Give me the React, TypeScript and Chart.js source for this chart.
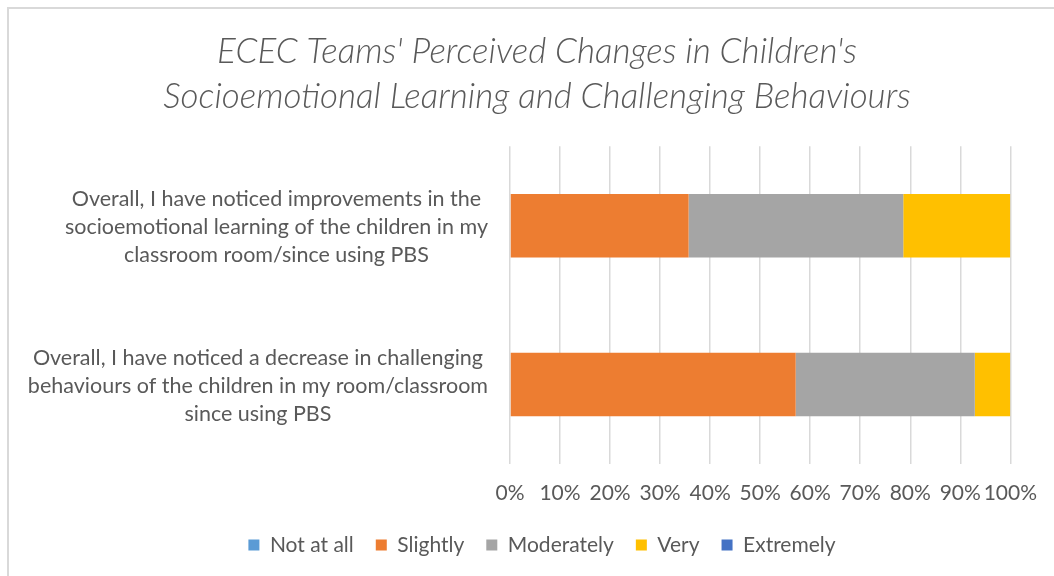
import React, { useEffect, useRef } from "react";
import { Chart, registerables } from "chart.js";

Chart.register(...registerables);

const categories: string[][] = [
  ["Overall, I have noticed improvements in the", "socioemotional learning of the children in my", "classroom room/since using PBS"],
  ["Overall, I have noticed a decrease in challenging", "behaviours of the children in my room/classroom", "since using PBS"],
];
const seriesNames = ["Not at all", "Slightly", "Moderately", "Very", "Extremely"];
const notAtAll = [0, 0];
const slightly = [35.7, 57.1];
const moderately = [42.9, 35.8];
const very = [21.4, 7.1];
const extremely = [0, 0];
const seriesColors = ["#5B9BD5", "#ED7D31", "#A5A5A5", "#FFC000", "#4472C4"];
const titleLines = ["ECEC Teams' Perceived Changes in Children's", "Socioemotional Learning and Challenging Behaviours"];

const FONT = "Lato, 'Noto Sans', sans-serif";
const TEXT = "#595959";

const boxShift = {
  id: "boxShift",
  afterLayout(chart: any) {
    const lg = chart.legend;
    if (lg) {
      lg.top -= 10.5;
      lg.bottom -= 10.5;
      lg.left += 31;
      lg.right += 31;
    }
    const tt = chart.titleBlock;
    if (tt) {
      tt.left += 26;
      tt.right += 26;
    }
  },
};

// Category labels: each label's lines centred on its own widest line, right edge near the axis
const categoryLabels = {
  id: "categoryLabels",
  afterDraw(chart: any) {
    const ctx = chart.ctx;
    const y = chart.scales.y;
    ctx.save();
    ctx.font = `21.5px ${FONT}`;
    ctx.fillStyle = TEXT;
    ctx.textAlign = "center";
    ctx.textBaseline = "middle";
    categories.forEach((lines, i) => {
      const cy = y.getPixelForValue(i);
      const w = Math.max(...lines.map((l) => ctx.measureText(l).width));
      const cx = y.right - 22 - w / 2;
      lines.forEach((l, j) => ctx.fillText(l, cx, cy + 1 + (j - (lines.length - 1) / 2) * 28));
    });
    ctx.restore();
  },
};

export default function App() {
  const ref = useRef<HTMLCanvasElement>(null);
  useEffect(() => {
    if (!ref.current) return;
    const values = [notAtAll, slightly, moderately, very, extremely];
    const chart = new Chart(ref.current, {
      type: "bar",
      data: {
        labels: categories.map((c) => c.join(" ")),
        datasets: seriesNames.map((name, i) => ({
          label: name,
          data: values[i],
          backgroundColor: seriesColors[i],
          borderWidth: 0,
          barPercentage: 0.4,
          categoryPercentage: 1,
        })),
      },
      options: {
        indexAxis: "y",
        animation: false,
        responsive: false,
        maintainAspectRatio: false,
        layout: { padding: { left: 10, right: 42, top: 8, bottom: 0 } },
        scales: {
          x: {
            stacked: true,
            min: 0,
            max: 100,
            grid: { color: "#d9d9d9", lineWidth: 1.5, drawTicks: false },
            border: { display: false },
            afterFit: (scale: any) => {
              scale.height = 59;
            },
            ticks: {
              stepSize: 10,
              padding: 17,
              maxRotation: 0,
              minRotation: 0,
              autoSkip: false,
              color: TEXT,
              font: { family: FONT, size: 21 },
              callback: (v: any) => v + "%",
            },
          },
          y: {
            stacked: true,
            grid: { display: false },
            border: { display: false },
            afterFit: (scale: any) => {
              scale.width = 500;
            },
            ticks: { display: false },
          },
        },
        plugins: {
          title: {
            display: true,
            text: titleLines,
            color: TEXT,
            font: { family: FONT, size: 35, style: "italic", weight: "300", lineHeight: 1.29 },
            padding: { top: 21, bottom: 27 },
          },
          legend: {
            position: "bottom",
            labels: {
              color: TEXT,
              font: { family: FONT, size: 21 },
              boxWidth: 11,
              boxHeight: 11,
              padding: 22,
            },
          },
          tooltip: { enabled: false },
        },
      },
      plugins: [boxShift, categoryLabels],
    });
    return () => chart.destroy();
  }, []);
  return (
    <div style={{ position: "fixed", left: 0, top: 0, width: 1054, height: 576, background: "#fff" }}>
      <canvas ref={ref} width={1054} height={576} style={{ position: "absolute", left: 0, top: 0 }} />
      <div
        style={{
          position: "absolute",
          left: 7,
          top: 7,
          width: 1047,
          height: 569,
          borderLeft: "2px solid #d9d9d9",
          borderTop: "2px solid #d9d9d9",
          boxSizing: "border-box",
          pointerEvents: "none",
        }}
      />
    </div>
  );
}
